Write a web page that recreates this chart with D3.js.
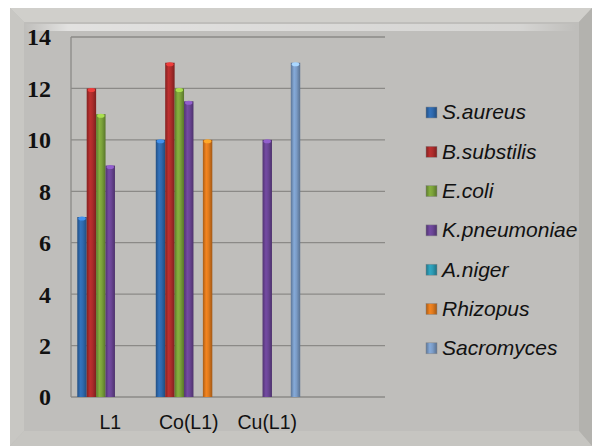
<!DOCTYPE html>
<html>
<head>
<meta charset="utf-8">
<script src="https://cdn.jsdelivr.net/npm/d3@7"></script>
<style>
  html, body { margin: 0; padding: 0; background: #ffffff; }
  svg { display: block; }
</style>
</head>
<body>
<svg id="chart" width="595" height="446"></svg>
<script>
// Categories (the fourth slot is left empty on the axis)
const categories = ["L1", "Co(L1)", "Cu(L1)", ""];
const seriesNames = ["S.aureus", "B.substilis", "E.coli", "K.pneumoniae", "A.niger", "Rhizopus", "Sacromyces"];
const seriesColors = ["#2f69ad", "#ad2c2b", "#7ba23a", "#6a4595", "#2c9ab3", "#e07a1d", "#7b9cc7"];
// Values per series, one per category
const sAureus     = [7, 10, 0, 0];
const bSubstilis  = [12, 13, 0, 0];
const eColi       = [11, 12, 0, 0];
const kPneumoniae = [9, 11.5, 10, 0];
const aNiger      = [0, 0, 0, 0];
const rhizopus    = [0, 10, 0, 0];
const sacromyces  = [0, 0, 13, 0];
const yTicks = [0, 2, 4, 6, 8, 10, 12, 14];

const seriesValues = [sAureus, bSubstilis, eColi, kPneumoniae, aNiger, rhizopus, sacromyces];

const svg = d3.select("#chart");
const defs = svg.append("defs");

// Beveled frame
const outer = {x0: 10, y0: 8, x1: 592, y1: 446};
const inner = {x0: 24, y0: 22, x1: 579, y1: 431};
svg.append("rect").attr("x", outer.x0).attr("y", outer.y0)
  .attr("width", outer.x1 - outer.x0).attr("height", outer.y1 - outer.y0)
  .attr("fill", "#bdbcb8");
// top bevel (light)
svg.append("polygon").attr("points", [
  [outer.x0, outer.y0], [outer.x1, outer.y0], [inner.x1, inner.y0], [inner.x0, inner.y0]
].join(" ")).attr("fill", "#d0cfcb");
// left bevel
svg.append("polygon").attr("points", [
  [outer.x0, outer.y0], [inner.x0, inner.y0], [inner.x0, inner.y1], [outer.x0, outer.y1]
].join(" ")).attr("fill", "#c8c7c3");
// right bevel
svg.append("polygon").attr("points", [
  [outer.x1, outer.y0], [outer.x1, outer.y1], [inner.x1, inner.y1], [inner.x1, inner.y0]
].join(" ")).attr("fill", "#b3b2ae");
// bottom bevel
svg.append("polygon").attr("points", [
  [outer.x0, outer.y1], [inner.x0, inner.y1], [inner.x1, inner.y1], [outer.x1, outer.y1]
].join(" ")).attr("fill", "#c6c5c1");
svg.append("rect").attr("x", inner.x0).attr("y", inner.y0)
  .attr("width", inner.x1 - inner.x0).attr("height", inner.y1 - inner.y0)
  .attr("fill", "#bfbebb");
// highlight strip along top bevel
const hl = defs.append("linearGradient").attr("id", "hl").attr("x1", 0).attr("x2", 1).attr("y1", 0).attr("y2", 0);
hl.append("stop").attr("offset", 0).attr("stop-color", "#ffffff").attr("stop-opacity", 0.0);
hl.append("stop").attr("offset", 0.08).attr("stop-color", "#ffffff").attr("stop-opacity", 0.55);
hl.append("stop").attr("offset", 0.9).attr("stop-color", "#ffffff").attr("stop-opacity", 0.35);
hl.append("stop").attr("offset", 1).attr("stop-color", "#ffffff").attr("stop-opacity", 0.0);
svg.append("rect").attr("x", 24).attr("y", 24).attr("width", 552).attr("height", 7).attr("fill", "url(#hl)");

// Plot area
const margin = {left: 71, top: 37, right: 385, bottom: 397};
const x0 = d3.scaleBand().domain(categories.map((c, i) => i))
  .range([margin.left, margin.right]).paddingInner(0.16).paddingOuter(0.08);
const x1 = d3.scaleBand().domain(seriesNames).range([0, x0.bandwidth()]).padding(0);
const y = d3.scaleLinear().domain([0, 14]).range([margin.bottom, margin.top]);

// Gridlines
svg.append("g").selectAll("line").data(yTicks).join("line")
  .attr("x1", margin.left).attr("x2", margin.right)
  .attr("y1", d => y(d)).attr("y2", d => y(d))
  .attr("stroke", "#8b8a87").attr("stroke-width", 1.3);
svg.append("line").attr("x1", margin.left).attr("x2", margin.left)
  .attr("y1", margin.top).attr("y2", margin.bottom)
  .attr("stroke", "#8b8a87").attr("stroke-width", 1.3);

// Y-axis labels
const yAxis = d3.axisLeft(y).tickValues(yTicks).tickSize(0).tickPadding(0);
const yg = svg.append("g").attr("transform", `translate(${margin.left - 20},0)`).call(yAxis);
yg.select(".domain").remove();
yg.selectAll("text").attr("font-family", "'Liberation Serif', 'Times New Roman', serif")
  .attr("font-weight", "bold").attr("font-size", 24).attr("fill", "#111").attr("dy", "0.33em");

// X-axis labels
const xAxis = d3.axisBottom(x0).tickFormat(i => categories[i]).tickSize(0).tickPadding(0);
const xg = svg.append("g").attr("transform", `translate(0,${margin.bottom + 18})`).call(xAxis);
xg.select(".domain").remove();
xg.selectAll("text").attr("font-family", "'Liberation Sans', Arial, sans-serif")
  .attr("font-size", 19.5).attr("fill", "#111").attr("dy", "0.71em");

// Cylinder-shaded gradients for the bars
seriesColors.forEach((c, i) => {
  const g = defs.append("linearGradient").attr("id", "bar" + i).attr("x1", 0).attr("x2", 1).attr("y1", 0).attr("y2", 0);
  const col = d3.color(c);
  g.append("stop").attr("offset", 0).attr("stop-color", col.darker(0.8));
  g.append("stop").attr("offset", 0.35).attr("stop-color", col.brighter(0.25));
  g.append("stop").attr("offset", 0.6).attr("stop-color", col);
  g.append("stop").attr("offset", 1).attr("stop-color", col.darker(0.9));
});

// Bars
const barData = [];
categories.forEach((c, ci) => {
  seriesNames.forEach((s, si) => {
    const v = seriesValues[si][ci];
    if (v > 0) barData.push({ci, si, v});
  });
});
const bw = x1.bandwidth();
const bars = svg.append("g").selectAll("g").data(barData).join("g");
bars.append("rect")
  .attr("x", d => x0(d.ci) + x1(seriesNames[d.si]))
  .attr("y", d => y(d.v))
  .attr("width", bw)
  .attr("height", d => y(0) - y(d.v))
  .attr("fill", d => `url(#bar${d.si})`);
// top cap highlight
bars.append("ellipse")
  .attr("cx", d => x0(d.ci) + x1(seriesNames[d.si]) + bw / 2)
  .attr("cy", d => y(d.v) + 1.5)
  .attr("rx", bw / 2 - 1).attr("ry", 2)
  .attr("fill", d => d3.color(seriesColors[d.si]).brighter(0.9));

// Legend
const legend = svg.append("g").selectAll("g").data(seriesNames).join("g")
  .attr("transform", (d, i) => `translate(426,${112 + i * 39.3})`);
legend.append("rect").attr("x", 0).attr("y", -5).attr("width", 11).attr("height", 11)
  .attr("fill", (d, i) => `url(#bar${i})`).attr("stroke", "#888").attr("stroke-width", 0.5);
legend.append("text").attr("x", 16).attr("y", 0).attr("dy", "0.35em")
  .attr("font-family", "'Liberation Sans', Arial, sans-serif").attr("font-style", "italic")
  .attr("font-size", 21).attr("fill", "#111").text(d => d);
</script>
</body>
</html>
